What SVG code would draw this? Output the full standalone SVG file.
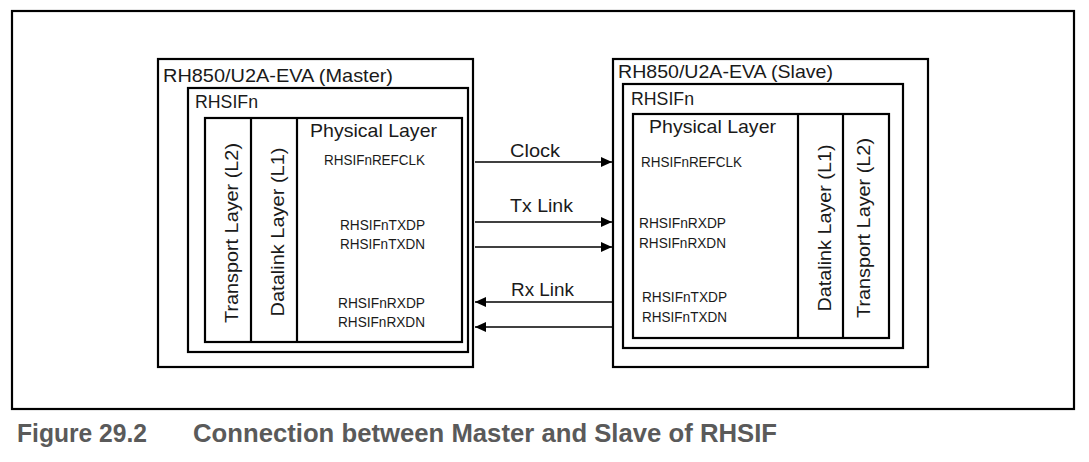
<svg xmlns="http://www.w3.org/2000/svg" width="1089" height="462" viewBox="0 0 1089 462">
<style>
.box{fill:none;stroke:#000;stroke-width:2.2}
.frame{fill:none;stroke:#000;stroke-width:2.2}
.t{font-family:"Liberation Sans",Arial,sans-serif;fill:#1a1a1a}
.big{font-size:19px}
.mid{font-size:18.5px}
.sm{font-size:14px}
.conn{stroke:#000;stroke-width:1.3;fill:none}
.cap{font-family:"Liberation Sans",Arial,sans-serif;font-weight:bold;font-size:26px;fill:#5a5a5a}
</style>
<defs>
<marker id="ah" markerWidth="11" markerHeight="10" refX="11" refY="5" orient="auto" markerUnits="userSpaceOnUse">
<path d="M0,0 L11,5 L0,10 Z" fill="#000"/>
</marker>
</defs>
<rect width="1089" height="462" fill="#fff"/>
<rect id="frame" class="frame" x="12" y="11" width="1062" height="398"/>

<g id="master">
<rect class="box" x="158" y="59" width="315" height="308"/>
<text class="t big" x="163" y="82" textLength="230" lengthAdjust="spacingAndGlyphs">RH850/U2A-EVA (Master)</text>
<g id="master-rhsif">
<rect class="box" x="188" y="88" width="280" height="264"/>
<text class="t mid" x="195" y="108" textLength="63" lengthAdjust="spacingAndGlyphs">RHSIFn</text>
</g>
<g id="master-layers">
<rect class="box" x="205" y="118" width="257" height="224"/>
<line class="box" x1="251" y1="118" x2="251" y2="342"/>
<line class="box" x1="297" y1="118" x2="297" y2="342"/>
<text class="t big" text-anchor="middle" transform="translate(238,233) rotate(-90)" textLength="180" lengthAdjust="spacingAndGlyphs">Transport Layer (L2)</text>
<text class="t big" text-anchor="middle" transform="translate(284,232) rotate(-90)" textLength="169" lengthAdjust="spacingAndGlyphs">Datalink Layer (L1)</text>
<text class="t big" x="310" y="137" textLength="127" lengthAdjust="spacingAndGlyphs">Physical Layer</text>
<text class="t sm" x="324" y="165" textLength="101" lengthAdjust="spacingAndGlyphs">RHSIFnREFCLK</text>
<text class="t sm" x="340" y="230" textLength="85" lengthAdjust="spacingAndGlyphs">RHSIFnTXDP</text>
<text class="t sm" x="340" y="249" textLength="85" lengthAdjust="spacingAndGlyphs">RHSIFnTXDN</text>
<text class="t sm" x="338" y="308" textLength="87" lengthAdjust="spacingAndGlyphs">RHSIFnRXDP</text>
<text class="t sm" x="338" y="327" textLength="87" lengthAdjust="spacingAndGlyphs">RHSIFnRXDN</text>
</g>
</g>

<g id="slave">
<rect class="box" x="613" y="59" width="315" height="308"/>
<text class="t big" x="618" y="78" textLength="215" lengthAdjust="spacingAndGlyphs">RH850/U2A-EVA (Slave)</text>
<g id="slave-rhsif">
<rect class="box" x="623" y="84" width="280" height="264"/>
<text class="t mid" x="631" y="105" textLength="63" lengthAdjust="spacingAndGlyphs">RHSIFn</text>
</g>
<g id="slave-layers">
<rect class="box" x="633" y="114" width="256" height="224"/>
<line class="box" x1="798" y1="114" x2="798" y2="338"/>
<line class="box" x1="843" y1="114" x2="843" y2="338"/>
<text class="t big" x="649" y="133" textLength="127" lengthAdjust="spacingAndGlyphs">Physical Layer</text>
<text class="t sm" x="641" y="167" textLength="101" lengthAdjust="spacingAndGlyphs">RHSIFnREFCLK</text>
<text class="t sm" x="639" y="228" textLength="87" lengthAdjust="spacingAndGlyphs">RHSIFnRXDP</text>
<text class="t sm" x="639" y="248" textLength="87" lengthAdjust="spacingAndGlyphs">RHSIFnRXDN</text>
<text class="t sm" x="642" y="302" textLength="85" lengthAdjust="spacingAndGlyphs">RHSIFnTXDP</text>
<text class="t sm" x="642" y="322" textLength="85" lengthAdjust="spacingAndGlyphs">RHSIFnTXDN</text>
<text class="t big" text-anchor="middle" transform="translate(831,228) rotate(-90)" textLength="167" lengthAdjust="spacingAndGlyphs">Datalink Layer (L1)</text>
<text class="t big" text-anchor="middle" transform="translate(870,228) rotate(-90)" textLength="180" lengthAdjust="spacingAndGlyphs">Transport Layer (L2)</text>
</g>
</g>

<g id="connectors">
<line class="conn" x1="475" y1="162" x2="612" y2="162" marker-end="url(#ah)"/>
<line class="conn" x1="475" y1="222" x2="612" y2="222" marker-end="url(#ah)"/>
<line class="conn" x1="475" y1="247" x2="612" y2="247" marker-end="url(#ah)"/>
<line class="conn" x1="612" y1="302" x2="475" y2="302" marker-end="url(#ah)"/>
<line class="conn" x1="612" y1="327" x2="475" y2="327" marker-end="url(#ah)"/>
<text class="t big" x="510" y="157" textLength="50" lengthAdjust="spacingAndGlyphs">Clock</text>
<text class="t big" x="510" y="212" textLength="63" lengthAdjust="spacingAndGlyphs">Tx Link</text>
<text class="t big" x="511" y="296" textLength="63" lengthAdjust="spacingAndGlyphs">Rx Link</text>
</g>

<g id="caption">
<text class="cap" x="17" y="442" textLength="130" lengthAdjust="spacingAndGlyphs">Figure 29.2</text>
<text class="cap" x="193" y="442" textLength="584" lengthAdjust="spacingAndGlyphs">Connection between Master and Slave of RHSIF</text>
</g>
</svg>
